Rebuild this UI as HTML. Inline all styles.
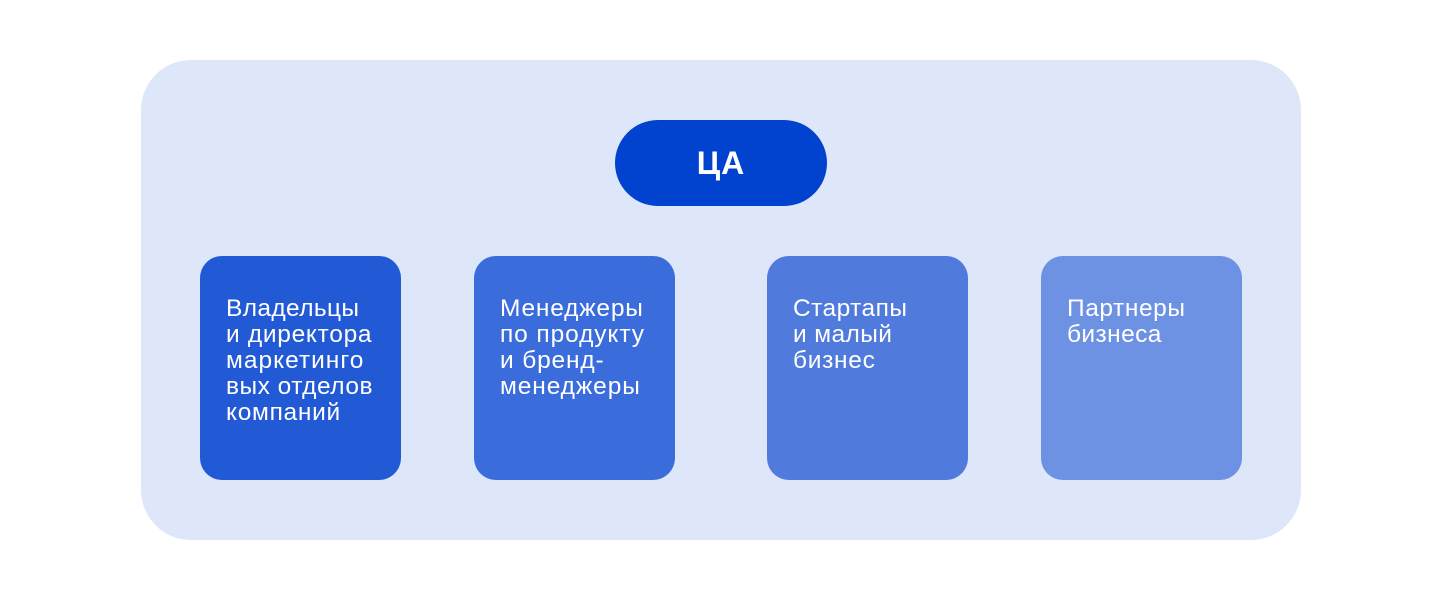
<!DOCTYPE html>
<html lang="ru">
<head>
<meta charset="utf-8">
<style>
html,body{margin:0;padding:0;background:#fff;}
body{width:1440px;height:600px;position:relative;overflow:hidden;font-family:"Liberation Sans","DejaVu Sans",sans-serif;}
.bg{position:absolute;left:141px;top:60px;width:1160px;height:480px;border-radius:50px;background:#dee6f9;}
.pill{position:absolute;left:615px;top:120px;width:212px;height:86px;border-radius:43px;background:#0142cf;color:#fff;font-weight:700;font-size:32px;letter-spacing:1px;line-height:86px;text-align:center;}
.card{position:absolute;top:256px;width:201px;height:224px;border-radius:22px;}
.t{position:absolute;left:26px;top:40px;color:#fff;font-size:24.5px;letter-spacing:.7px;line-height:26px;white-space:nowrap;}
</style>
</head>
<body>
<div class="bg"></div>
<div class="pill">ЦА</div>
<div class="card" style="left:200px;background:#2259d5"><div class="t"><span style="letter-spacing:.37px">Владельцы</span><br>и директора<br><span style="letter-spacing:1px">маркетинго</span><br><span style="letter-spacing:.5px">вых отделов</span><br>компаний</div></div>
<div class="card" style="left:474px;background:#3a6cdb"><div class="t"><span style="letter-spacing:.8px">Менеджеры</span><br><span style="letter-spacing:.9px">по продукту</span><br><span style="letter-spacing:.85px">и бренд-</span><br><span style="letter-spacing:.9px">менеджеры</span></div></div>
<div class="card" style="left:767px;background:#507adc"><div class="t"><span style="letter-spacing:.45px">Стартапы</span><br><span style="letter-spacing:.4px">и малый</span><br>бизнес</div></div>
<div class="card" style="left:1041px;background:#6e92e3"><div class="t"><span style="letter-spacing:.58px">Партнеры</span><br><span style="letter-spacing:.4px">бизнеса</span></div></div>
</body>
</html>
